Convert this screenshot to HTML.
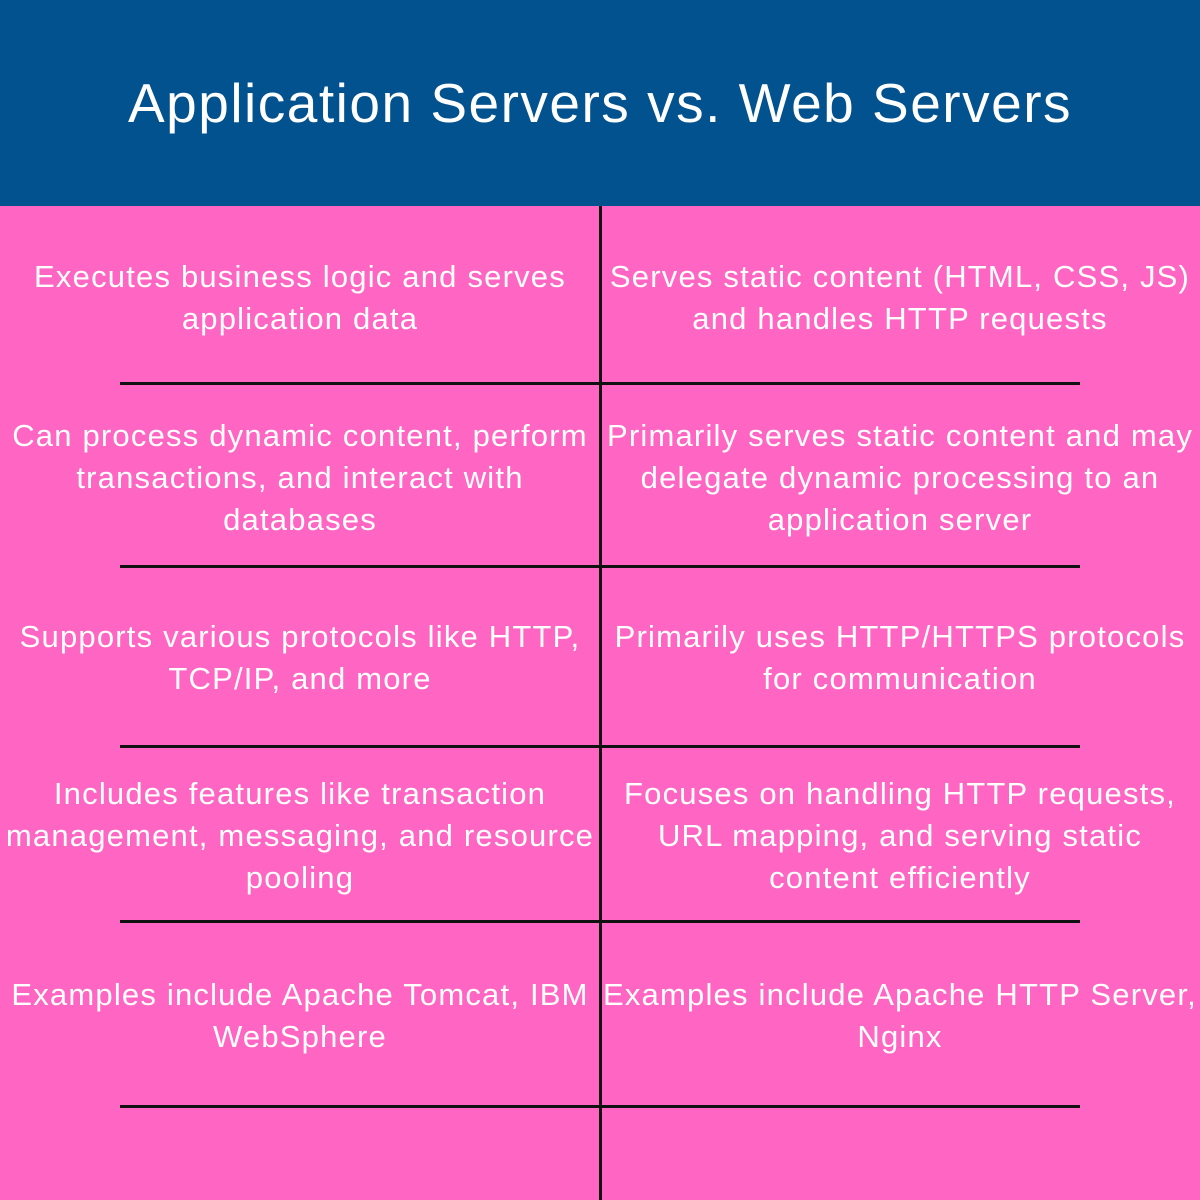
<!DOCTYPE html>
<html><head><style>
body{margin:0;width:1200px;height:1200px;position:relative;background:#FF66C4;font-family:"Liberation Sans",sans-serif;overflow:hidden}
.hd{position:absolute;left:0;top:0;width:1200px;height:206px;background:#02528F;color:#fff;font-size:55px;letter-spacing:1.5px;text-align:center;line-height:206px;white-space:nowrap}
.v{position:absolute;left:599px;top:206px;width:3px;height:994px;background:#111}
.h{position:absolute;left:120px;width:960px;height:3px;background:#111}
.t{position:absolute;width:600px;text-align:center;color:#fff;font-size:31px;letter-spacing:1.2px;line-height:42px;white-space:nowrap}
.l{left:0}.r{left:600px}
</style></head><body>
<div class="hd">Application Servers vs. Web Servers</div>
<div class="v"></div>
<div class="h" style="top:382px"></div>
<div class="h" style="top:565px"></div>
<div class="h" style="top:745px"></div>
<div class="h" style="top:920px"></div>
<div class="h" style="top:1105px"></div>
<div class="t l" style="top:256px">Executes business logic and serves<br>application data</div>
<div class="t r" style="top:256px">Serves static content (HTML, CSS, JS)<br>and handles HTTP requests</div>
<div class="t l" style="top:415px">Can process dynamic content, perform<br>transactions, and interact with<br>databases</div>
<div class="t r" style="top:415px">Primarily serves static content and may<br>delegate dynamic processing to an<br>application server</div>
<div class="t l" style="top:616px">Supports various protocols like HTTP,<br>TCP/IP, and more</div>
<div class="t r" style="top:616px">Primarily uses HTTP/HTTPS protocols<br>for communication</div>
<div class="t l" style="top:773px">Includes features like transaction<br>management, messaging, and resource<br>pooling</div>
<div class="t r" style="top:773px">Focuses on handling HTTP requests,<br>URL mapping, and serving static<br>content efficiently</div>
<div class="t l" style="top:974px">Examples include Apache Tomcat, IBM<br>WebSphere</div>
<div class="t r" style="top:974px">Examples include Apache HTTP Server,<br>Nginx</div>
</body></html>
